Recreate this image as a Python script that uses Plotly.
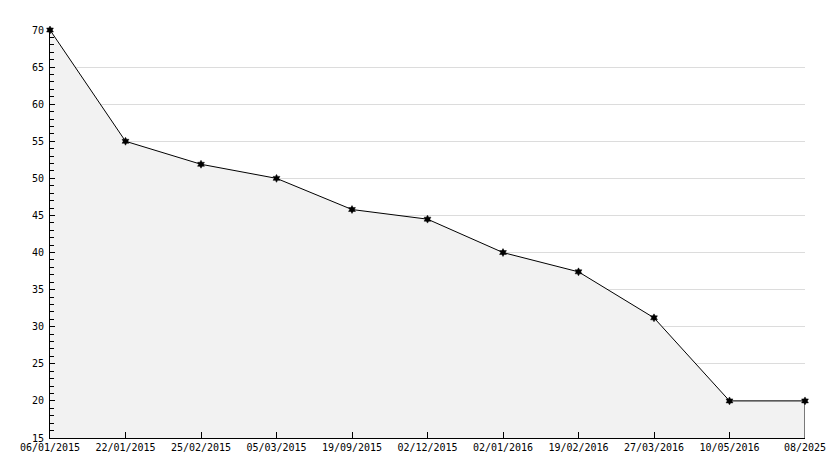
import plotly.graph_objects as go

dates = ["06/01/2015", "22/01/2015", "25/02/2015", "05/03/2015", "19/09/2015",
         "02/12/2015", "02/01/2016", "19/02/2016", "27/03/2016", "10/05/2016", "08/2025"]
values = [70, 55, 51.9, 50, 45.8, 44.5, 40, 37.4, 31.2, 20, 20]
y_min, y_max = 15, 70

fig = go.Figure()
fig.add_trace(go.Scatter(
    x=dates, y=values, mode="lines+markers",
    fill="tozeroy", fillcolor="#f2f2f2",
    line=dict(color="black", width=1),
    marker=dict(symbol="hexagram", size=6, color="black", line=dict(color="black", width=0.5)),
    cliponaxis=False,
    hoverinfo="x+y", showlegend=False,
))
fig.add_trace(go.Scatter(
    x=[dates[-1], dates[-1]], y=[values[-1], y_min], mode="lines",
    line=dict(color="black", width=1), hoverinfo="skip", showlegend=False,
))

font = dict(family="DejaVu Sans Mono", size=10, color="black")
# page body has an 8px default margin, so the figure is sized to fit the window
fig.update_layout(
    width=826, height=460,
    margin=dict(l=42, r=29, t=22, b=30),
    paper_bgcolor="white", plot_bgcolor="white",
    font=font,
    xaxis=dict(
        type="category", range=[0, len(dates) - 1], automargin=False,
        showgrid=False, showline=True, linecolor="black", linewidth=1,
        ticks="inside", ticklen=6, tickcolor="black", tickfont=font,
        zeroline=False,
    ),
    yaxis=dict(
        range=[y_min, y_max], dtick=5, tick0=0, automargin=False,
        showgrid=True, gridcolor="#dcdcdc", gridwidth=1,
        showline=True, linecolor="black", linewidth=1,
        ticks="inside", ticklen=5, tickcolor="black", tickfont=font,
        ticklabelstandoff=3,
        minor=dict(dtick=1, ticks="inside", ticklen=4, tickcolor="black", showgrid=False),
        zeroline=False,
    ),
)
fig.write_html("out.html")
